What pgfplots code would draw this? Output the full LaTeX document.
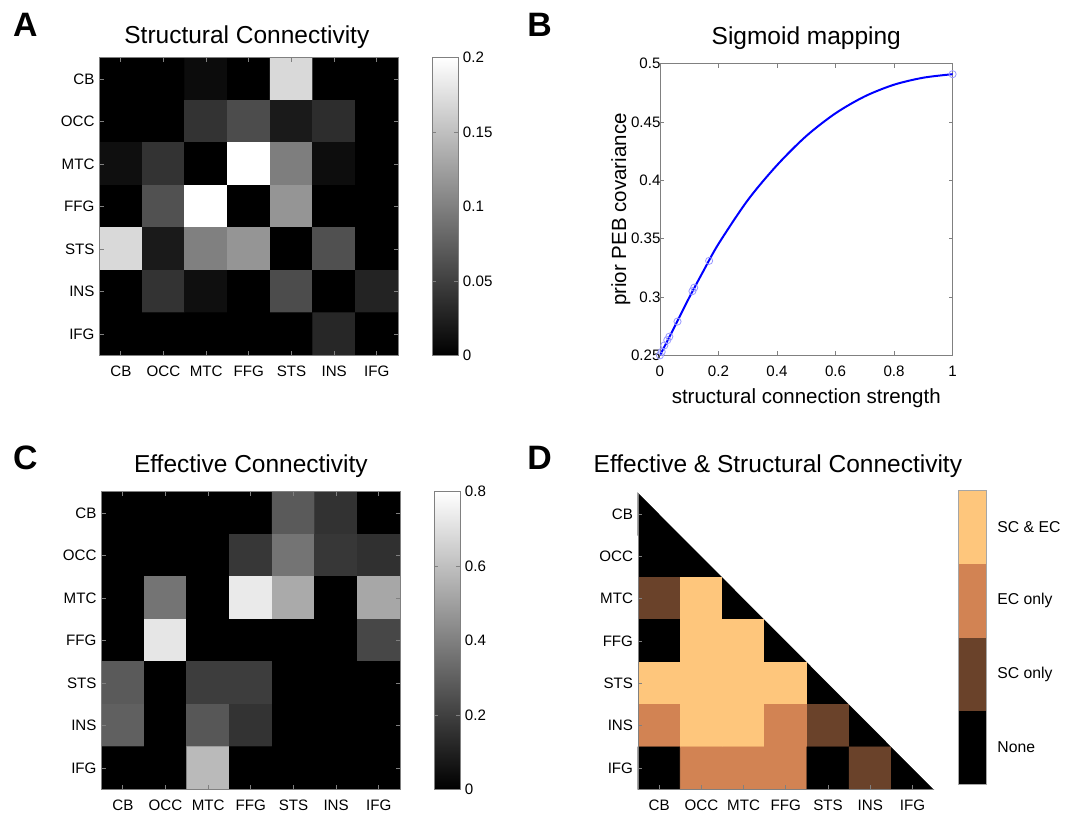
\documentclass[border=0pt]{standalone}
\usepackage{fontspec}
\setmainfont{Liberation Sans}
\usepackage{pgfplots}
\pgfplotsset{compat=1.18}

\definecolor{cpA}{RGB}{0,0,0}
\definecolor{cpB}{RGB}{106,66,42}
\definecolor{cpC}{RGB}{210,131,83}
\definecolor{cpD}{RGB}{254,198,124}
\definecolor{frame}{RGB}{128,128,128}

\newcommand{\tickfont}{\fontsize{7.6}{8}\selectfont}
\newcommand{\titlefont}{\fontsize{12.3}{14}\selectfont}

\pgfplotsset{
  mlab/.style={
    scale only axis, enlargelimits=false, axis on top,
    tick align=inside, major tick length=2pt,
    tick style={frame, line width=0.4pt},
    axis line style={frame, line width=0.4pt},
    ticklabel style={font=\tickfont},
    /pgf/number format/assume math mode=true,
  },
  cmat/.style={
    mlab,
    width=150pt, height=149.5pt,
    xmin=0.5, xmax=7.5, ymin=0.5, ymax=7.5, y dir=reverse,
    xtick={1,...,7}, ytick={1,...,7},
    xticklabels={CB,OCC,MTC,FFG,STS,INS,IFG},
    yticklabels={CB,OCC,MTC,FFG,STS,INS,IFG},
    xticklabel style={yshift=-2pt},
    yticklabel style={xshift=1pt},
  },
  gbar/.style={
    colorbar style={
      scale only axis, width=13pt, height=149.5pt,
      at={(parent axis.north east)}, anchor=north west, xshift=8.5pt,
      tick align=inside, major tick length=2pt,
      tick style={frame, line width=0.4pt},
      axis line style={frame, line width=0.4pt},
      ticklabel style={font=\tickfont},
      yticklabel style={/pgf/number format/fixed, /pgf/number format/precision=2,
        /pgf/number format/assume math mode=true, xshift=-1pt},
      ytick={#1},
    },
  },
}

\begin{document}
\begin{tikzpicture}
\path (0,0) rectangle (533.5pt,409pt);

% panel letters and titles
\node[font=\fontsize{17}{18}\selectfont\bfseries] at (12.75pt,396.5pt) {A};
\node[font=\fontsize{17}{18}\selectfont\bfseries] at (271pt,396.5pt) {B};
\node[font=\fontsize{17}{18}\selectfont\bfseries] at (12.75pt,179pt) {C};
\node[font=\fontsize{17}{18}\selectfont\bfseries] at (271pt,179pt) {D};
\node[font=\titlefont, anchor=base] at (124pt,387pt) {Structural Connectivity};
\node[font=\titlefont, anchor=base] at (405pt,386.5pt) {Sigmoid mapping};
\node[font=\titlefont, anchor=base] at (126pt,171.5pt) {Effective Connectivity};
\node[font=\titlefont, anchor=base] at (390.75pt,171.5pt) {Effective \& Structural Connectivity};

% A: structural connectivity
\begin{axis}[cmat, at={(50pt,230.5pt)}, anchor=south west,
  colormap/blackwhite, point meta min=0, point meta max=0.2,
  colorbar, gbar={0,0.05,0.1,0.15,0.2}]
\addplot[matrix plot*, mesh/cols=7, point meta=explicit] table[meta=c] {
x y c
1 1 0
2 1 0
3 1 0.009
4 1 0
5 1 0.169
6 1 0
7 1 0
1 2 0
2 2 0
3 2 0.040
4 2 0.059
5 2 0.020
6 2 0.035
7 2 0
1 3 0.012
2 3 0.040
3 3 0
4 3 0.200
5 3 0.098
6 3 0.010
7 3 0
1 4 0
2 4 0.063
3 4 0.200
4 4 0
5 4 0.116
6 4 0
7 4 0
1 5 0.169
2 5 0.020
3 5 0.100
4 5 0.116
5 5 0
6 5 0.062
7 5 0
1 6 0
2 6 0.040
3 6 0.012
4 6 0
5 6 0.059
6 6 0
7 6 0.027
1 7 0
2 7 0
3 7 0
4 7 0
5 7 0
6 7 0.030
7 7 0
};
\end{axis}

% B: sigmoid mapping
\begin{axis}[mlab, at={(331.5pt,230.5pt)}, anchor=south west,
  width=147pt, height=146.5pt,
  xmin=0, xmax=1, ymin=0.25, ymax=0.5,
  xtick={0,0.2,0.4,0.6,0.8,1},
  ytick={0.25,0.3,0.35,0.4,0.45,0.5},
  yticklabel style={/pgf/number format/fixed, /pgf/number format/precision=2, xshift=3.8pt},
  xticklabel style={/pgf/number format/fixed, yshift=-2pt},
  xlabel={structural connection strength},
  ylabel={prior PEB covariance},
  label style={font=\fontsize{10.3}{12}\selectfont},
  xlabel style={yshift=1pt},
  ylabel style={yshift=-6.5pt},
  axis on top=false]
\addplot[blue, line width=1pt, smooth] coordinates {
(0,0.25) (0.05,0.2745) (0.1,0.2995) (0.15,0.3230) (0.2,0.3455)
(0.3,0.3830) (0.4,0.4130) (0.5,0.4380) (0.6,0.4575) (0.7,0.4720)
(0.8,0.4820) (0.9,0.4880) (1,0.4910)};
\addplot[only marks, mark=o, mark size=1.8pt, mark options={draw=blue!40, line width=0.4pt}] coordinates {
(0,0.25) (0.006,0.253) (0.015,0.2585) (0.025,0.263) (0.032,0.266)
(0.06,0.279) (0.111,0.305) (0.117,0.308) (0.168,0.331) (1,0.491)};
\end{axis}

% C: effective connectivity
\begin{axis}[cmat, at={(51pt,12.5pt)}, anchor=south west,
  colormap/blackwhite, point meta min=0, point meta max=0.8,
  colorbar, gbar={0,0.2,0.4,0.6,0.8}]
\addplot[matrix plot*, mesh/cols=7, point meta=explicit] table[meta=c] {
x y c
1 1 0
2 1 0
3 1 0
4 1 0
5 1 0.28
6 1 0.157
7 1 0
1 2 0
2 2 0
3 2 0
4 2 0.17
5 2 0.36
6 2 0.17
7 2 0.15
1 3 0
2 3 0.36
3 3 0
4 3 0.73
5 3 0.53
6 3 0
7 3 0.52
1 4 0
2 4 0.715
3 4 0
4 4 0
5 4 0
6 4 0
7 4 0.22
1 5 0.28
2 5 0
3 5 0.19
4 5 0.19
5 5 0
6 5 0
7 5 0
1 6 0.30
2 6 0
3 6 0.27
4 6 0.16
5 6 0
6 6 0
7 6 0
1 7 0
2 7 0
3 7 0.58
4 7 0
5 7 0
6 7 0
7 7 0
};
\end{axis}

% D: effective & structural connectivity (0 none, 1 SC only, 2 EC only, 3 SC & EC)
\begin{axis}[cmat, at={(320.5pt,12.5pt)}, anchor=south west,
  width=148.5pt, height=149pt,
  axis line style={draw=none}, clip=false,
  xtick pos=left, ytick pos=left,
  colormap={copper4}{rgb255=(0,0,0) rgb255=(106,66,42) rgb255=(210,131,83) rgb255=(254,198,124)},
  colormap access=piecewise constant,
  point meta min=0, point meta max=4]
\addplot[matrix plot*, mesh/cols=7, point meta=explicit] table[meta expr=\thisrow{c}+0.5] {
x y c
1 1 0
2 1 0
3 1 0
4 1 0
5 1 0
6 1 0
7 1 0
1 2 0
2 2 0
3 2 0
4 2 0
5 2 0
6 2 0
7 2 0
1 3 1
2 3 3
3 3 0
4 3 0
5 3 0
6 3 0
7 3 0
1 4 0
2 4 3
3 4 3
4 4 0
5 4 0
6 4 0
7 4 0
1 5 3
2 5 3
3 5 3
4 5 3
5 5 0
6 5 0
7 5 0
1 6 2
2 6 3
3 6 3
4 6 2
5 6 1
6 6 0
7 6 0
1 7 0
2 7 2
3 7 2
4 7 2
5 7 0
6 7 1
7 7 0
};
\addplot[fill=white, draw=none] coordinates {(0.5,0.5) (0.5,0.4) (7.6,0.4) (7.6,7.5) (7.5,7.5) (0.5,0.5)};
\addplot[frame, line width=0.4pt] coordinates {(0.5,0.5) (0.5,7.5) (7.5,7.5)};
\end{axis}

% D: category colour key
\begin{axis}[scale only axis, at={(481.5pt,15pt)}, anchor=south west,
  width=14pt, height=147.5pt, xmin=0, xmax=1, ymin=0, ymax=4,
  xtick=\empty, ytick={0.5,1.5,2.5,3.5},
  yticklabels={None, SC only, EC only, SC \& EC},
  yticklabel pos=right, major tick length=0pt,
  ticklabel style={font=\fontsize{7.9}{9}\selectfont},
  yticklabel style={xshift=2pt},
  axis line style={frame!70, line width=0.4pt}, axis on top]
\addplot[fill=cpA, draw=none] coordinates {(0,0) (1,0) (1,1) (0,1)};
\addplot[fill=cpB, draw=none] coordinates {(0,1) (1,1) (1,2) (0,2)};
\addplot[fill=cpC, draw=none] coordinates {(0,2) (1,2) (1,3) (0,3)};
\addplot[fill=cpD, draw=none] coordinates {(0,3) (1,3) (1,4) (0,4)};
\end{axis}
\end{tikzpicture}
\end{document}
